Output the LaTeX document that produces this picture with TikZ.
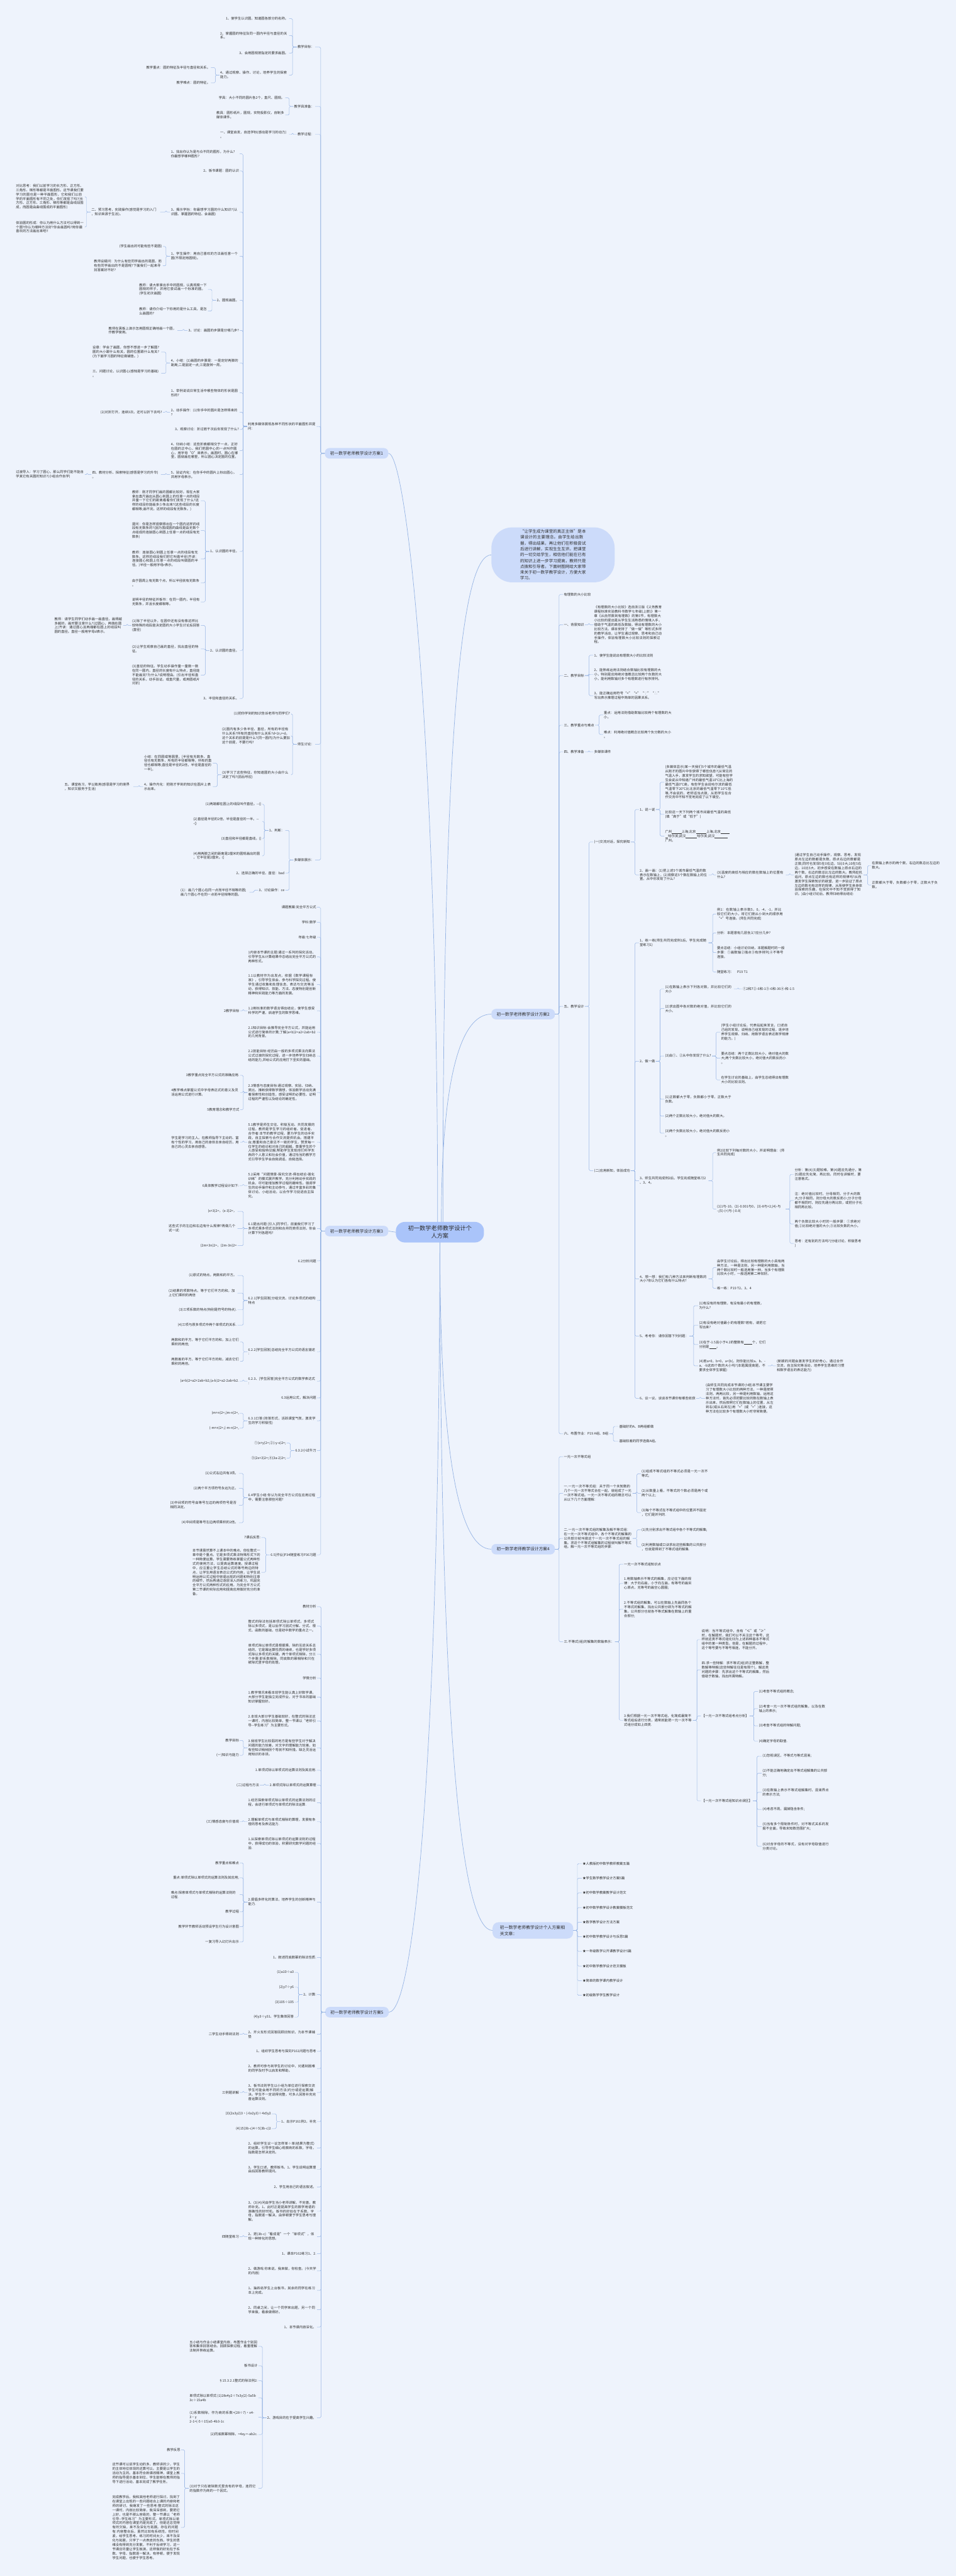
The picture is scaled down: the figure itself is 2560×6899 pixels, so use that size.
\documentclass[tikz,border=0pt]{standalone}
\usepackage{fontspec}
\setmainfont{Noto Sans CJK SC}
\XeTeXlinebreaklocale "zh"
\XeTeXlinebreakskip = 0pt plus 1pt
\definecolor{bg}{RGB}{238,243,252}
\definecolor{lnk}{RGB}{150,180,228}
\definecolor{bnode}{RGB}{204,219,250}
\definecolor{cnode}{RGB}{170,196,250}
\definecolor{txt}{RGB}{45,45,45}
\newcommand{\blank}[1]{\rule[-1.5pt]{#1pt}{0.5pt}}
\newcommand{\tol}[2]{\foreach \kid in {#2}{\draw[link] (#1.west) -- ++(-11,0) |- (\kid.east);}}
\newcommand{\tor}[2]{\foreach \kid in {#2}{\draw[link] (#1.east) -- ++(11,0) |- (\kid.west);}}
\tikzset{
  every node/.style={font=\fontsize{9}{11.6}\selectfont, text=txt, inner xsep=2pt, inner ysep=1pt},
  lt/.style={anchor=east},
  rt/.style={anchor=west},
  para/.style={text width=182pt, align=left},
  link/.style={draw=lnk, line width=0.8pt, rounded corners=3pt},
  trunk/.style={draw=lnk, line width=1.2pt},
  branch/.style={fill=bnode, rounded corners=12pt, minimum width=170pt, minimum height=28pt, font=\fontsize{11.3}{14}\selectfont},
  rootbox/.style={fill=cnode, rounded corners=24pt, minimum width=236pt, minimum height=55pt, align=center, font=\fontsize{15.5}{20.5}\selectfont},
  bubble/.style={fill=bnode, rounded corners=55pt, text width=176pt, align=left, inner xsep=77pt, inner ysep=6pt, font=\fontsize{11}{15.6}\selectfont}
}
\begin{document}
\begin{tikzpicture}[x=1pt,y=-1pt]
\fill[bg] (0,0) rectangle (2560,6899);
\useasboundingbox (0,0) rectangle (2560,6899);

\node[rootbox] (root) at (1178,3300) {初一数学老师教学设计个\\人方案};
\node[branch] (b1) at (955,1214) {初一数学老师教学设计方案1};
\node[branch] (b2) at (1401,2716) {初一数学老师教学设计方案2};
\node[branch] (b3) at (955,3297) {初一数学老师教学设计方案3};
\node[branch] (b4) at (1401,4149) {初一数学老师教学设计方案4};
\node[branch] (b5) at (956,5389) {初一数学老师教学设计方案5};
\node[branch, text width=176pt, align=left, minimum height=44pt, rounded corners=16pt, inner xsep=20pt, font=\fontsize{11.5}{17}\selectfont] (rel) at (1427,5170) {初一数学老师教学设计个人方案相关文章：};
\node[bubble] (sum) at (1481,1486) {“让学生成为课堂的真正主体”是本课设计的主要理念。由学生给出数据，得出结果，再让他们在积极尝试后进行讲解，实现生生互评。把课堂的一切交给学生，相信他们能在已有的知识上进一步学习提高，教师只是点拨和引导者。下面树图网给大家带来关于初一数学教学设计，方便大家学习。};

\draw[trunk] ([xshift=-6pt]root.north) .. controls (1172,2000) and (1090,1214) .. (b1.east);
\draw[trunk] ([xshift=8pt]root.north) .. controls (1186,1900) and (1240,1486) .. (sum.west);
\draw[trunk] ([xshift=4pt]root.north) .. controls (1182,2900) and (1230,2716) .. (b2.west);
\draw[trunk] (root.west) -- (b3.east);
\draw[trunk] (root.south) .. controls (1178,3900) and (1230,4149) .. (b4.west);
\draw[trunk] (root.south) .. controls (1180,4700) and (1240,5170) .. (rel.west);
\draw[trunk] (root.south) .. controls (1175,4700) and (1110,5389) .. (b5.east);

\node[lt] (b1a) at (844,126) {教学目标：};
\node[lt] (b1b) at (844,285) {教学具准备：};
\node[lt] (b1c) at (844,360) {教学过程：};
\node[lt,para] (b1d) at (848,1142) {利用多媒体展现各种不同形状的平面图形并提问：};
\node[lt] (b1e) at (844,1993) {师生讨论：};
\node[lt] (b1f) at (844,2303) {多媒体展示：};
\tol{b1}{b1a,b1b,b1c,b1d,b1e,b1f}

\node[lt] (a1) at (774,50) {1、使学生认识圆，知道圆各部分的名称。};
\node[lt,para] (a2) at (774,95) {2、掌握圆的特征及同一圆内半径与直径的关系。};
\node[lt] (a3) at (774,142) {3、会用圆规按指定的要求画圆。};
\node[lt,para] (a4) at (774,201) {4、通过观察、操作、讨论，培养学生的探索能力。};
\tol{b1a}{a1,a2,a3,a4}
\node[lt] (a4a) at (565,181) {教学重点：圆的特征及半径与直径和关系。};
\node[lt] (a4b) at (565,222) {教学难点：圆的特征。};
\tol{a4}{a4a,a4b}
\node[lt] (bb1) at (764,262) {学具：大小不同的圆片各2个，直尺、圆规。};
\node[lt,para] (bb2) at (764,308) {教具：圆形纸片，圆规，实物投影仪，自制多媒体课件。};
\tol{b1b}{bb1,bb2}
\node[lt,para] (bc1) at (774,360) {一、课堂启发，自选学标(感动是学习的动力)\\。};
\tol{b1c}{bc1}

\node[lt,para] (d1) at (642,412) {1、找出你认为是与众不同的图形，为什么?\\你最想学哪种图形?};
\node[lt] (d2) at (642,458) {2、板书课题：圆的认识};
\node[lt,para] (d3) at (642,568) {3、揭示学标：你最想学习圆的什么知识?(认识圆、掌握圆的特征、会画圆)};
\node[lt,para] (d4) at (642,686) {1、学生操作：用自己喜欢的方法画任意一个圆(不限定用圆规)。};
\node[lt] (d5) at (642,804) {2、圆规画圆。};
\node[lt] (d6) at (642,885) {3、讨论：画圆的步骤是分哪几步?};
\node[lt,para] (d7) at (642,972) {4、小结：(1)画圆的步骤是：一是定好两脚的距离;二是固定一点;三是旋转一周。};
\node[lt,para] (d8) at (642,1052) {1、举例说说日常生活中哪些物体的形状是圆形的?};
\node[lt,para] (d9) at (642,1104) {2、动手操作：(1)你手中的圆片是怎样得来的\\?};
\node[lt] (d10) at (642,1150) {3、观察讨论：折过若干次后你发现了什么?};
\node[lt,para] (d11) at (642,1207) {4、归纳小结：这些折痕都相交于一点，正好在圆的正中心，我们把圆中心的一点叫作圆心，用字母“O”来表示。画圆时，圆心在哪里，圆就画在哪里，所以圆心决定圆的位置。};
\node[lt,para] (d12) at (642,1271) {5、验证内化：在你手中的圆片上标出圆心，\\并用字母表示。};
\node[lt] (d13) at (642,1477) {1、认识圆的半径。};
\node[lt] (d14) at (642,1742) {2、认识圆的直径。};
\node[lt] (d15) at (642,1871) {3、半径和直径的关系。};
\tol{b1d}{d1,d2,d3,d4,d5,d6,d7,d8,d9,d10,d11,d12,d13,d14,d15}

\node[lt,para] (d3a) at (429,568) {二、预习思考，实践操作(感觉是学习的入门\\，知识来源于生活)。};
\tol{d3}{d3a}
\node[lt,para] (d3a1) at (227,527) {对比思考：我们以前学习的长方形、正方形、三角形、梯形等都是平面图形。这节课我们要学习的圆也是一种平面图形，它和我们以前学的平面图形有不同之处，你们发现了吗?(长方形、正方形、三角形、梯形等都是由线段围成，而圆是由曲线围成的平面图形)};
\node[lt,para] (d3a2) at (227,608) {体验圆的形成：你认为用什么方法可以得到一个圆?你认为哪种方法好?你会画圆吗?用你最喜欢的方法画出来吧!!};
\tol{d3a}{d3a1,d3a2}
\node[lt] (d4a) at (436,660) {(学生画出的可能有些不是圆)};
\node[lt,para] (d4b) at (436,712) {教师设疑问：为什么有些同学画出的是圆，而有些同学画出的不是圆呢?下面我们一起来寻找答案好不好?};
\tol{d4}{d4a,d4b}
\node[lt,para] (d5a) at (557,775) {教师：请大家拿出手中的圆规，认真观察一下圆规的样子，并用它尝试画一个标准的圆。(学生初次画圆)};
\node[lt,para] (d5b) at (557,833) {教师：请你介绍一下你用的是什么工具，是怎么画圆的?};
\tol{d5}{d5a,d5b}
\node[lt,para] (d6a) at (475,885) {教师在黑板上演示怎用圆规正确地画一个圆，作教学使用。};
\tol{d6}{d6a}
\node[lt,para] (d7a) at (432,943) {设悬：学会了画圆，你想不想进一步了解圆?圆的大小跟什么有关，圆的位置跟什么有关?(为下面学习圆的特征做铺垫。)};
\node[lt,para] (d7b) at (432,1000) {三、问题讨论，认识圆心(感知是学习的基础)\\。};
\tol{d7}{d7a,d7b}
\node[lt] (d9a) at (436,1104) {(2)对折打开，连续3次。还可以折下去吗?};
\tol{d9}{d9a}
\node[lt,para] (d12a) at (431,1271) {四、教材分析、探索特征(感悟是学习的升华)\\。};
\tol{d12}{d12a}
\node[lt,para] (d12b) at (227,1271) {过渡导入：学习了圆心，那么同学们能不能自学其它有关圆的知识?(小组合作自学)};
\tol{d12a}{d12b}
\node[lt,para] (r1) at (538,1341) {教师：刚才同学们画的圆都比较好。现在大家拿出直尺画出从圆心到圆上的任意一点的线段并量一下它们的距离看看你们发现了什么?这样的线段你能画多少条出来?(这些线段的长度都相等;画不完，这样的线段有无数条。)};
\node[lt,para] (r2) at (538,1421) {提问：你是怎样观察得出在一个圆内这样的线段有无数条的?(因为围成圆的曲线是由无数个点组成的连接圆心到圆上任意一点的线段有无数条)};
\node[lt,para] (r3) at (538,1497) {教师：连接圆心到圆上任意一点的线段有无数条。这样的线段我们把它叫做半径(齐读：连接圆心和圆上任意一点的线段叫做圆的半径。)半径一般用字母r表示。};
\node[lt,para] (r4) at (538,1561) {由于圆周上有无数个点，所以半径就有无数条\\。};
\node[lt,para] (r5) at (538,1612) {说明半径的特征并板书：在同一圆内，半径有无数条，并且长度都相等。};
\tol{d13}{r1,r2,r3,r4,r5}
\node[lt,para] (s1) at (538,1675) {(1)除了半径以外，在圆中还有没有像这样比较特殊的线段能决定圆的大小学生讨论后回答(直径)};
\node[lt,para] (s2) at (538,1738) {(2)让学生观察自己画的直径，找出直径的特征。};
\node[lt,para] (s3) at (538,1808) {(3)直径的特征。学生动手操作量一量数一数在同一圆内，直径的长度有什么特点，直径能不能画完?为什么?说明理由。(引出半径和直径的关系，动手验证。或直尺量，或用圆纸片对折)};
\tol{d14}{s1,s2,s3}
\node[lt,para] (s1a) at (330,1675) {教师：请学生同学们动手画一画直径。画得越多越好。画时要注意什么?(过圆心，两端在圆上)齐读：通过圆心且两端都在圆上的线段叫圆的直径。直径一般用字母d表示。};
\tol{s1}{s1a}

\node[lt] (e1) at (779,1912) {(1)把你学到的知识告诉老师与同学们?};
\node[lt,para] (e2) at (779,1971) {(2)圆内有多少条半径、直径，所有的半径有什么关系?所有的直径有什么关系?d=2r,r=d。这个关系的前提是什么?(同一圆内)为什么要加这个前提，不要行吗?};
\node[lt,para] (e3) at (779,2075) {(3)学习了这些特征，你知道圆的大小由什么决定了吗?(前后呼应)};
\tol{b1e}{e1,e2,e3}
\node[lt,para] (e3a) at (570,2044) {小结：在同圆或等圆里，[半径有无数条，直径也有无数条，所有的半径都相等，所有的直径也都相等;直径是半径的2倍，半径是直径的一半]。};
\node[lt,para] (e3b) at (570,2107) {4、操作内化：把刚才学到的知识在圆片上表示出来。};
\tol{e3}{e3a,e3b}
\node[lt,para] (e3c) at (357,2107) {五、课堂练习，学以致用(感恩是学习的境界\\，知识又服务于生活)};
\tol{e3b}{e3c}

\node[lt] (f1) at (764,2224) {1、判断：};
\node[lt] (f2) at (764,2338) {2、选择正确的半径、直径：bad};
\node[lt] (f3) at (764,2384) {3、讨论操作：ce};
\tol{b1f}{f1,f2,f3}
\node[lt] (f1a) at (702,2154) {(1)两端都在圆上的线段叫作直径。-{}-()};
\node[lt,para] (f1b) at (702,2200) {(2)直径是半径的2倍，半径是直径的一半。-{}-\\-()};
\node[lt] (f1c) at (702,2246) {(3)直径和半径都是直线。()};
\node[lt,para] (f1d) at (702,2292) {(4)用两脚之间的距离是2厘米的圆规画出的圆\\，它半径是2厘米。()};
\tol{f1}{f1a,f1b,f1c,f1d}
\node[lt,para] (f3a) at (668,2390) {(1)：画几个圆心在同一点而半径不相等的圆;\\画几个圆心不在同一点而半径相等的圆。};
\tol{f3}{f3a}

\node[rt] (h1) at (1508,1592) {有理数的大小比较};
\node[rt] (h2) at (1508,1673) {一、背景知识};
\node[rt] (h3) at (1508,1809) {二、教学目标};
\node[rt] (h4) at (1508,1942) {三、教学重点与难点};
\node[rt] (h5) at (1508,2014) {四、教学准备};
\node[rt] (h6) at (1508,2695) {五、教学设计};
\node[rt] (h7) at (1508,3840) {六、布置作业：P19 A组、B组};
\tor{b2}{h1,h2,h3,h4,h5,h6,h7}
\node[rt,para] (h2a) at (1589,1673) {《有理数的大小比较》选自浙江版《义务教育课程标准实验教科书数学七年级(上册)》第一章《从自然数到有理数》的第5节，有理数大小比较的提出是从学生生活熟悉的情境入手，借助于气温的高低及数轴，得出有理数的大小比较方法。课本安排了“做一做”等形式多样的教学活动，让学生通过观察、思考和自己动手操作，体验有理数大小比较法则的探索过程。};
\tor{h2}{h2a}
\node[rt] (h3a) at (1589,1755) {1、使学生能说出有理数大小的比较法则};
\node[rt,para] (h3b) at (1589,1806) {2、能熟练运用法则结合数轴比较有理数的大小，特别是应用绝对值概念比较两个负数的大小，能利用数轴对多个有理数进行有序排列。};
\node[rt,para] (h3c) at (1589,1863) {3、能正确运用符号“<”“>”“∵”“∴”写出表示推理过程中简单的因果关系。};
\tor{h3}{h3a,h3b,h3c}
\node[rt,para] (h4a) at (1615,1915) {重点：运用法则借助数轴比较两个有理数的大小。};
\node[rt,para] (h4b) at (1615,1967) {难点：利用绝对值概念比较两个负分数的大小\\。};
\tor{h4}{h4a,h4b}
\node[rt] (h5a) at (1589,2014) {多媒体课件};
\tor{h5}{h5a}
\node[rt] (h6a) at (1589,2255) {(一)交流对话，探究新知};
\node[rt] (h6b) at (1589,3135) {(二)应用新知，体验成功};
\tor{h6}{h6a,h6b}
\node[rt] (h7a) at (1656,3820) {基础好的A、B两组都做};
\node[rt] (h7b) at (1656,3860) {基础较差的同学选做A组。};
\tor{h7}{h7a,h7b}

\node[rt] (i1) at (1711,2168) {1、说一说};
\node[rt,para] (i2) at (1711,2343) {2、画一画：(1)把上述5个城市最低气温的数表示在数轴上，(2)观察这5个数在数轴上的位置，从中你发现了什么?};
\tor{h6a}{i1,i2}
\node[rt,para] (i1a) at (1779,2095) {(多媒体显示)某一天我们5个城市的最低气温从刚才的图片中你获得了哪些信息?(从常见的气温入手，激发学生的求知欲望，可能有些学生会说从中知道广州的最低气温10℃比上海的最低气温0℃高，有些学生会说哈尔滨的最低气温零下20℃比北京的最低气温零下10℃低等,不会说的，老师适当点拨，从而学生在合作交流中不知不觉地完成了以下填空。};
\node[rt,para] (i1b) at (1779,2181) {比较这一天下列两个城市间最低气温的高低(填“高于”或“低于”)};
\node[rt,para] (i1c) at (1779,2239) {广州\blank{26}上海;北京\blank{28}上海;北京\blank{24}\\\blank{8}哈尔滨;武汉\blank{30}哈尔滨;武汉\blank{34}\\广州。};
\tor{i1}{i1a,i1b,i1c}
\node[rt,para] (i2a) at (1918,2343) {(3)温度的高低与相应的数在数轴上的位置有什么?};
\tor{i2}{i2a}
\node[rt,para] (i2b) at (2126,2343) {(通过学生自己动手操作，观察、思考，发现原点左边的数都是负数，原点右边的数都是正数;同时也发现5在0右边，5比0大;10在5右边，10比5大，初步感受在数轴上原点右边的两个数，右边的数总比左边的数大。教师趁机追问，原点左边的数也有这样的规律吗?从而激发学生探索知识的欲望，进一步验证了原点左边的数也有这样的规律，从而使学生亲身体验探索的乐趣，在探究中不知不觉获得了知识。)由小组讨论后，教师归纳得出结论:};
\tor{i2a}{i2b}
\node[rt,para] (i2c) at (2333,2318) {在数轴上表示的两个数，右边的数总比左边的数大。};
\node[rt,para] (i2d) at (2333,2370) {正数都大于零，负数都小于零，正数大于负数。};
\tor{i2b}{i2c,i2d}

\node[rt,para] (j1) at (1711,2525) {1、练一练(师生共同完成例1后，学生完成随堂练习1)};
\node[rt] (j2) at (1711,2842) {2、做一做};
\node[rt,para] (j3) at (1711,3162) {3、师生共同完成例2后，学生完成随堂练习2\\、3、4。};
\node[rt,para] (j4) at (1711,3425) {4、想一想：我们有几种方法来判断有理数的大小?你认为它们各有什么特点?};
\node[rt] (j5) at (1711,3578) {5、考考你：请你回答下列问题：};
\node[rt] (j6) at (1711,3745) {6、议一议，谈谈本节课你有哪些收获};
\tor{h6b}{j1,j2,j3,j4,j5,j6}
\node[rt,para] (j1a) at (1918,2448) {例1：在数轴上表示数5，0，-4，-1，并比较它们的大小，将它们按从小到大的顺序用“<”号连接。(师生共同完成)};
\node[rt] (j1b) at (1918,2499) {分析：本题意有几层含义?应分几步?};
\node[rt,para] (j1c) at (1918,2551) {要点总结：小组讨论归纳，本题解题时的一般步骤：①画数轴②描点③有序排列;④不等号连接。};
\node[rt] (j1d) at (1918,2603) {随堂练习：\quad P19 T1};
\tor{j1}{j1a,j1b,j1c,j1d}
\node[rt,para] (j2a) at (1779,2649) {(1)在数轴上表示下列各对数，并比较它们的大小};
\node[rt,para] (j2b) at (1779,2701) {(2)求出图中各对数的绝对值，并比较它们的大小。};
\node[rt] (j2c) at (1779,2828) {(3)由①、②从中你发现了什么?};
\node[rt,para] (j2d) at (1779,2944) {(1)正数都大于零，负数都小于零，正数大于负数。};
\node[rt] (j2e) at (1779,2989) {(2)两个正数比较大小，绝对值大的数大。};
\node[rt,para] (j2f) at (1779,3035) {(3)两个负数比较大小，绝对值大的数反而小\\。};
\tor{j2}{j2a,j2b,j2c,j2d,j2e,j2f}
\node[rt] (j2a1) at (1987,2649) {①2和7②-6和-1③-6和-36④-和-1.5};
\tor{j2a}{j2a1}
\node[rt,para] (j2c1) at (1929,2764) {(学生小组讨论后，代表站起来发言，口述自己组的发现，说明自己组发现的过程，逐步培养学生观察、归纳、用数学语言表达数学规律的能力。)};
\node[rt,para] (j2c2) at (1929,2834) {要点总结：两个正数比较大小，绝对值大的数大;两个负数比较大小，绝对值大的数反而小\\。};
\node[rt,para] (j2c3) at (1929,2892) {在学生讨论的基础上，由学生总结得出有理数大小的比较法则。};
\tor{j2c}{j2c1,j2c2,j2c3}
\node[rt,para] (j3a) at (1918,3087) {例2比较下列每对数的大小，并说明理由：(师生共同完成)};
\node[rt,para] (j3b) at (1918,3238) {(1)1与-10，(2)-0.001与0，(3)-8与+2;(4)-与\\-;(5)-(+)与-|-0.8|};
\tor{j3}{j3a,j3b}
\node[rt,para] (j3b1) at (2126,3145) {分析：第(4)(5)题较难，第(4)题应先通分，第(5)题应先化简，再比较。同时在讲解时，要注意格式。};
\node[rt,para] (j3b2) at (2126,3215) {注：绝对值比较时，分母相同，分子大的数大;分子相同，则分母大的数反而小;分子分母都不相同时，则应先通分再比较，或把分子化相同再比较。};
\node[rt,para] (j3b3) at (2126,3278) {两个负数比较大小时的一般步骤：①求绝对值;②比较绝对值的大小;③比较负数的大小。};
\node[rt,para] (j3b4) at (2126,3330) {思考：还有别的方法吗?(分组讨论，积极思考\\)};
\tor{j3b}{j3b1,j3b2,j3b3,j3b4}
\node[rt,para] (j4a) at (1918,3395) {由学生讨论后，得出比较有理数的大小具有两种方法，一种是法则，另一种是利用数轴，当两个数比较时一般选用第一种，当多个有理数比较大小时，一般选用第二种较好。};
\node[rt] (j4b) at (1918,3450) {练一练：P19 T2、3、4};
\tor{j4}{j4a,j4b}
\node[rt,para] (j5a) at (1870,3497) {(1)有没有的有理数，有没有最小的有理数，\\为什么?};
\node[rt,para] (j5b) at (1870,3549) {(2)有没有绝对值最小的有理数?若有，请把它写出来?};
\node[rt,para] (j5c) at (1870,3601) {(3)在于-1.5且小于4.2的整数有\blank{22}个，它们\\分别是\blank{20}。};
\node[rt,para] (j5d) at (1870,3658) {(4)若a>0，b<0，a<|b|，则你能比较a、b、-a、-b这四个数的大小吗?(本题属提高题，不要求全体学生掌握)};
\tor{j5}{j5a,j5b,j5c,j5d}
\node[rt,para] (j5d1) at (2078,3658) {(新颖的问题会激发学生的好奇心，通过合作交流，自主探究等活动，培养学生思维的习惯和数学语言的表达能力)};
\tor{j5d}{j5d1}
\node[rt,para] (j6a) at (1888,3745) {(由师生共同完成本节课的小结)本节课主要学习了有理数大小比较的两种方法，一种是按照法则，两两比较，另一种是利用数轴，运用这种方法时，首先必须把要比较的数在数轴上表示出来，然后按照它们在数轴上的位置，从左到右(或从右到左)用“<”(或“>”)连接，这种方法在比较多个有理数大小时非常简便。};
\tor{j6}{j6a}

\node[lt] (c1) at (849,2430) {课题教案:完全平方公式};
\node[lt] (c2) at (849,2470) {学科:数学};
\node[lt] (c3) at (849,2510) {年级:七年级};
\node[lt,para] (c4) at (849,2563) {1内容本节课的主题:通过一系列的探究活动，引导学生从计算结果中总结出完全平方公式的两种形式。};
\node[lt,para] (c5) at (849,2637) {1.1以教材作为出发点，依据《数学课程标准》，引导学生体会、参与科学探究过程。使学生通过收集和处理信息、表达与交流等活动，获得知识、技能、方法、态度特别是创新精神和实践能力等方面的发展。};
\node[lt,para] (c6) at (849,2707) {1.2用标准的数学语言得出结论，使学生感受科学的严谨，启迪学生的数学思维。};
\node[lt,para] (c7) at (849,2764) {2.1知识目标:会推导完全平方公式，并能运用公式进行简单的计算;了解(a+b)2=a2+2ab+b2的几何背景。};
\node[lt,para] (c8) at (849,2828) {2.2技能目标:经历由一般的多项式乘法向乘法公式过渡的探究过程，进一步培养学生归纳总结的能力,并给公式的应用打下坚实的基础。};
\node[lt,para] (c9) at (849,2926) {2.3情感与态度目标:通过观察、实验、归纳、类比、推断获得数学猜想，体验数学活动充满着探索性和创造性，感受证明的必要性、证明过程的严谨性以及结论的确定性。};
\node[lt,para] (c10) at (849,3059) {5.1教学是师生交往、积极互动、共同发展的过程。教师是学生学习的组织者、促进者、合作者:本节的教学过程，要为学生的动手实践，自主探索与合作交流提供机会。搭建平台;尊重和自己意见不一致的学生，赞赏每一位学生的结论和对自己的超越。尊重学生的个人感受和独特见解;帮助学生发现他们所学东西的个人意义和社会价值，通过恰当的教学方式引导学生学会自我调适，自我选择。};
\node[lt,para] (c11) at (849,3175) {5.2采用“问题情景-探究交流-得出结论-强化训练”的模式展开教学。充分利用动手实践的机会，尽可能增加教学过程的趣味性。强调学生的动手操作和主动参与，通过丰富多彩的集体讨论、小组活动，以合作学习促进自主探究。};
\node[lt,para] (c12) at (849,3290) {6.1提出问题:[引入]同学们，前面我们学习了多项式乘多项式法则和合并同类项法则，你会计算下列各题吗?};
\node[lt] (c13) at (849,3377) {6.2分析问题};
\node[lt,para] (c14) at (849,3483) {6.2.1[学生回答]分组交流、讨论多项式的结构特点};
\node[lt,para] (c15) at (849,3620) {6.2.2[学生回答]总结完全平方公式的语言描述\\:};
\node[lt,para] (c16) at (849,3699) {6.2.3、[学生回答]完全平方公式的数学表达式\\:};
\node[lt] (c17) at (849,3744) {6.3运用公式，解决问题};
\node[lt,para] (c18) at (849,3805) {6.3.1口答:(抢答形式，活跃课堂气氛，激发学生的学习积极性)};
\node[lt] (c19) at (849,3885) {6.3.2小试牛刀};
\node[lt,para] (c20) at (849,4011) {6.4学生小结:你认为完全平方公式在应用过程中，需要注意那些问题?};
\node[lt] (c21) at (849,4164) {6.5[作业]P34随堂练习P36习题};
\tol{b3}{c1,c2,c3,c4,c5,c6,c7,c8,c9,c10,c11,c12,c13,c14,c15,c16,c17,c18,c19,c20,c21}
\node[lt] (c6a) at (643,2707) {2教学目标};
\tol{c6}{c6a}
\node[lt] (c9a) at (643,2880) {3教学重点完全平方公式的准确应用.};
\node[lt,para] (c9b) at (643,2926) {4教学难点掌握公式中字母表达式的意义及灵活运用公式进行计算。};
\node[lt] (c9c) at (643,2972) {5教育理念和教学方式};
\tol{c9}{c9a,c9b,c9c}
\node[lt,para] (c10a) at (643,3059) {学生是学习的主人。在教师指导下主动的、富有个性的学习，用自己的身体去亲自经历，用自己的心灵去亲自感悟。};
\tol{c10}{c10a}
\node[lt] (c11a) at (642,3175) {6具体教学过程设计如下:};
\tol{c11}{c11a}
\node[lt] (c12a) at (636,3244) {(x+3)2=，(x-3)2=，};
\node[lt,para] (c12b) at (636,3290) {这些式子的左边和右边有什么规律?再做几个试一试:};
\node[lt] (c12c) at (636,3336) {(2m+3n)2=，(2m-3n)2=};
\tol{c12}{c12a,c12b,c12c}
\node[lt] (c14a) at (636,3416) {(1)原式的特点。两数和的平方。};
\node[lt,para] (c14b) at (636,3463) {(2)结果的项数特点。等于它们平方的和，加上它们乘积的两倍};
\node[lt] (c14c) at (636,3508) {(3)三项系数的特点(特别是符号的特点).};
\node[lt] (c14d) at (636,3549) {(4)三项与原多项式中两个单项式的关系.};
\tol{c14}{c14a,c14b,c14c,c14d}
\node[lt,para] (c15a) at (643,3594) {两数和的平方，等于它们平方的和，加上它们乘积的两倍;};
\node[lt,para] (c15b) at (643,3646) {两数差的平方，等于它们平方的和，减去它们乘积的两倍。};
\tol{c15}{c15a,c15b}
\node[lt] (c16a) at (642,3699) {(a+b)2=a2+2ab+b2;(a-b)2=a2-2ab+b2.};
\tol{c16}{c16a}
\node[lt] (c18a) at (642,3785) {(m+n)2=,(m-n)2=,};
\node[lt] (c18b) at (642,3825) {(-m+n)2=,(-m-n)2=,};
\tol{c18}{c18a,c18b}
\node[lt] (c19a) at (768,3865) {①(x+y)2=;②(-y-x)2=;};
\node[lt] (c19b) at (768,3905) {③(2x+3)2=;④(3a-2)2=;};
\tol{c19}{c19a,c19b}
\node[lt] (c20a) at (640,3946) {(1)公式右边共有3项。};
\node[lt] (c20b) at (640,3986) {(2)两个平方项符号永远为正。};
\node[lt,para] (c20c) at (640,4031) {(3)中间项的符号由等号左边的两项符号是否相同决定。};
\node[lt] (c20d) at (640,4078) {(4)中间项是等号左边两项乘积的2倍。};
\tol{c20}{c20a,c20b,c20c,c20d}
\node[lt] (c21a) at (700,4118) {7课后反思:};
\node[lt,para] (c21b) at (700,4211) {本节课虽然算不上课本中的难点，但在整式一章中是个重点。它是多项式乘法特殊形式下的一种简便运算。学生需要熟练掌握公式两种形式的使用方法，以提高运算速度。授课过程中，应注重让学生总结公式的等号两边的特点，让学生用语言表达公式的内容，让学生说明运用公式过程中容易出现的问题和特别注意的细节，然后再通过逐层深入的练习，巩固完全平方公式两种形式的应用。为完全平方公式第二节课的实际应用和提高应用做好充分的准备。};
\tol{c21}{c21a,c21b}

\node[rt] (k1) at (1508,3901) {一元一次不等式组};
\node[rt,para] (k2) at (1508,3999) {一.一元一次不等式组：关于同一个未知数的几个一元一次不等式合在一起，就组成了一元一次不等式组。一元一次不等式组的概念可以从以下几个方面理解：};
\node[rt,para] (k3) at (1508,4120) {二.一元一次不等式组的解集及解不等式组：在一元一次不等式组中，各个不等式的解集的公共部分就叫做这个一元一次不等式组的解集。求这个不等式组解集的过程就叫解不等式组。解一元一次不等式组的步骤：};
\node[rt] (k4) at (1508,4397) {三.不等式(组)的解集的数轴表示：};
\tor{b4}{k1,k2,k3,k4}
\node[rt,para] (k2a) at (1716,3947) {(1)组成不等式组的不等式必须是一元一次不等式;};
\node[rt,para] (k2b) at (1716,3999) {(2)从数量上看，不等式的个数必须是两个或两个以上;};
\node[rt,para] (k2c) at (1716,4051) {(3)每个不等式在不等式组中的位置并不固定\\，它们是并列的.};
\tor{k2}{k2a,k2b,k2c}
\node[rt] (k3a) at (1716,4097) {(1)先分别求出不等式组中各个不等式的解集;};
\node[rt,para] (k3b) at (1716,4143) {(2)利用数轴或口诀求出这些解集的公共部分\\，也就是得到了不等式组的解集.};
\tor{k3}{k3a,k3b}
\node[rt] (k4a) at (1669,4189) {一元一次不等式组知识点};
\node[rt,para] (k4b) at (1669,4241) {1.用数轴表示不等式的解集，应记住下面的规律：大于向右画，小于向左画，有等号的画实心原点，无等号的画空心圆圈;};
\node[rt,para] (k4c) at (1669,4310) {2.不等式组的解集，可以在数轴上先画同各个不等式的解集，找出公共部分即为不等式的解集。公共部分也就各不等式解集在数轴上的重合部分;};
\node[rt,para] (k4d) at (1669,4607) {3.我们根据一元一次不等式组，化简成最简不等式组后进行分类，通常就能把一元一次不等式组分成如上四类.};
\tor{k4}{k4a,k4b,k4c,k4d}
\node[rt,para] (k4d1) at (1877,4391) {说明：当不等式组中，含有“≤”或“≥”时，在解题时，我们可以不关注这个等号，这样就这类不等式组化归为上述四种基本不等式组中的某一种类型。但是，在解题的过程中，这个等号要与不等号相连，不能分开。};
\node[rt,para] (k4d2) at (1877,4472) {四.求一些特解：求不等式(组)的正整数解，整数解等特解(这些特解往往是有限个)，解这类问题的步骤：先求出这个不等式的解集，然后借助于数轴，找出所需特解。};
\node[rt] (k4d3) at (1877,4596) {【一元一次不等式组考点分析】};
\node[rt] (k4d4) at (1877,4823) {【一元一次不等式组知识点误区】};
\tor{k4d}{k4d1,k4d2,k4d3,k4d4}
\node[rt] (m1) at (2030,4530) {(1)考查不等式组的概念;};
\node[rt,para] (m2) at (2030,4576) {(2)考查一元一次不等式组的解集，以及在数轴上的表示;};
\node[rt] (m3) at (2030,4622) {(3)考查不等式组的特解问题;};
\node[rt] (m4) at (2030,4663) {(4)确定字母的取值.};
\tor{k4d3}{m1,m2,m3,m4}
\node[rt] (n1) at (2040,4703) {(1)忽视误区，不等式与等式混淆;};
\node[rt,para] (n2) at (2040,4749) {(2)不能正确地确定出不等式组解集的公共部\\分;};
\node[rt,para] (n3) at (2040,4800) {(3)在数轴上表示不等式组解集时，混淆界点的表示方法;};
\node[rt] (n4) at (2040,4846) {(4)考虑不周，漏掉隐含条件;};
\node[rt,para] (n5) at (2040,4892) {(5)当有多个限制条件时，对不等式关系的发掘不全面，导致未知数范围扩大;};
\node[rt,para] (n6) at (2040,4945) {(6)对含字母的不等式，没有对字母取值进行分类讨论。};
\tor{k4d4}{n1,n2,n3,n4,n5,n6}

\foreach \t [count=\i from 0] in {人教版初中数学教师教案五篇,学生数学教学设计方案5篇,初中数学教案教学设计范文,初中数学教学设计教案模板范文,数学教学设计方法方案,初中数学教学设计与反思5篇,一年级数学公开课教学设计5篇,初中数学教学设计范文模板,简单的数学课内教学设计,初级数学学生教学设计}
  \node[rt] (q\i) at (1558,{4991+39.2*\i}) {★\t};
\foreach \i in {0,...,9} \draw[link] (rel.east) -- ++(11,0) |- (q\i.west);

\node[lt] (g1) at (849,4303) {教材分析};
\node[lt,para] (g2) at (849,4355) {整式的除法包括单项式除以单项式，多项式除以多项式，是以后学习因式分解、分式、根式、函数的基础，也是初中数学的重点之一。};
\node[lt,para] (g3) at (849,4430) {单项式除以单项式是根据乘、除的互逆关系总结的，它是幂运算性质的继续，也是学好多项式除以多项式的关键。两个单项式相除，分三个步骤:即系数相除，同底数的幂相除和只在被除式里字母的处理。};
\node[lt] (g4) at (849,4494) {学情分析};
\node[lt,para] (g5) at (849,4545) {1.教学情况来看本班学生能认真上好数学课，大部分学生能独立完成作业，对于书本的基础知识掌握较好。};
\node[lt,para] (g6) at (849,4609) {2.本班大部分学生基础较好，在整式的除法这一课时，内容比较简单，整一节课以“老师引导-{}-学生练习”为主要形式。};
\node[lt,para] (g7) at (849,4681) {3.我班学生比较弱的地方是有些学生对于解决问题的能力较差，对文字的理解能力较差，如有些知识稍稍拐个弯就不知所措，缺乏灵活运用知识的本领。};
\node[lt] (g8) at (849,4741) {1.单项式除以单项式的运算法则及其应用.};
\node[lt] (g9) at (849,4781) {2.单项式除以单项式的运算算理};
\node[lt,para] (g10) at (849,4828) {1.经历探索单项式除以单项式的运算法则的过程，会进行单项式与单项式的除法运算.};
\node[lt,para] (g11) at (849,4879) {2.理解单项式与单项式相除的算理，发展有条理的思考及表达能力.};
\node[lt,para] (g12) at (849,4937) {1.从探索单项式除以单项式的运算法则的过程中，获得成功的体验，积累研究数学问题的经验.};
\node[lt,para] (g13) at (849,5094) {2.提倡多样化的算法，培养学生的创新精神与能力.};
\node[lt] (g14) at (849,5242) {1、叙述同底数幂的除法性质.};
\node[lt] (g15) at (849,5342) {2、计算:};
\node[lt,para] (g16) at (849,5448) {2、开火车形式回答回顾旧知识，为本节课铺垫};
\node[lt] (g17) at (849,5494) {1、组织学生思考与探究P161问题与思考};
\node[lt,para] (g18) at (849,5540) {2、教师可参与到学生的讨论中，对遇到困难的同学及时予以启发和帮助。};
\node[lt,para] (g19) at (849,5604) {3、板书法则学生以小组为单位进行探索交流学生可能会用不同的方法(约分或逆运算)解决。学生不一定说得完整，可多人回答补充完善运算法则。};
\node[lt] (g20) at (849,5682) {1、出示P161例2，补充};
\node[lt,para] (g21) at (849,5753) {2、组织学生议一议怎样单÷单(结果为整式)的运算。引导学生细心观察商的系数，字母，指数是怎样决定的。};
\node[lt,para] (g22) at (849,5810) {3、学生口述，教师板书。1、学生说明运算理由后回答教师提问。};
\node[lt] (g23) at (849,5857) {2、学生用自己的语言叙述。};
\node[lt,para] (g24) at (849,5922) {3、(3)(4)问由学生当小老师讲解，不完善，教师补充。1、此时正是提高学生的数学用语的准确性的好时机。板书的好处在于系数，字母，指数逐一解决，由停顿便于学生思考与理解。};
\node[lt,para] (g25) at (849,5990) {2、把(3b-c)“看成是”一个“单项式”，体现一种转化的思想。};
\node[lt] (g26) at (849,6036) {1、课本P162练习1、2.};
\node[lt,para] (g27) at (849,6082) {2、做游戏:你来说，我来做，你检查。(今天学的内容)};
\node[lt,para] (g28) at (849,6134) {1、抽四名学生上台板书，其余的同学在练习本上完成。};
\node[lt,para] (g29) at (849,6186) {2、同桌之间，让一个同学来出题，另一个同学来做，看谁做得好。};
\node[lt] (g30) at (849,6232) {1、本节课内容深化。};
\node[lt] (g31) at (849,6475) {2、游戏目的在于提高学生兴趣。};
\tol{b5}{g1,g2,g3,g4,g5,g6,g7,g8,g9,g10,g11,g12,g13,g14,g15,g16,g17,g18,g19,g20,g21,g22,g23,g24,g25,g26,g27,g28,g29,g30,g31}
\node[lt] (g7a) at (642,4661) {教学目标};
\node[lt] (g7b) at (642,4701) {(一)知识与能力};
\tol{g7}{g7a,g7b}
\node[lt] (g9a) at (696,4781) {(二)过程与方法};
\tol{g9}{g9a}
\node[lt] (g11a) at (642,4879) {(三)情感态度与价值观};
\tol{g11}{g11a}
\node[lt] (g13a) at (642,4989) {教学重点和难点};
\node[lt] (g13b) at (642,5029) {重点:单项式除以单项式的运算法则及其应用;};
\node[lt,para] (g13c) at (642,5074) {难点:探索单项式与单项式相除的运算法则的\\过程.};
\node[lt] (g13d) at (642,5120) {教学过程};
\node[lt] (g13e) at (642,5160) {教学环节教师活动预设学生行为设计意图};
\node[lt] (g13f) at (642,5201) {一复习导入幻灯片出示};
\tol{g13}{g13a,g13b,g13c,g13d,g13e,g13f}
\node[lt] (g15a) at (789,5282) {(1)a10÷a3};
\node[lt] (g15b) at (789,5322) {(2)y7÷y6};
\node[lt] (g15c) at (789,5362) {(3)105÷105};
\node[lt] (g15d) at (789,5402) {(4)y3÷y31、学生集体回答};
\tol{g15}{g15a,g15b,g15c,g15d}
\node[lt] (g16a) at (642,5448) {二学生动手得到法则};
\tol{g16}{g16a}
\node[lt] (g19a) at (642,5604) {三例题讲解};
\tol{g19}{g19a}
\node[lt] (g20a) at (728,5661) {(3)(2x3y2)3·(-6x2y3)÷4x5y2};
\node[lt] (g20b) at (728,5701) {(4)15(3b-c)4÷5(3b-c)2};
\tol{g20}{g20a,g20b}
\node[lt] (g25a) at (642,5990) {四随堂练习};
\tol{g25}{g25a}
\node[lt,para] (g31a) at (692,6284) {五小结与作业小结课堂内容，布置作业个别回答和集体回答结合。回顾探索过程，着重理解法制并熟练运算。};
\node[lt] (g31b) at (692,6336) {板书设计};
\node[lt] (g31c) at (692,6376) {§15.3.2.1整式的除法例2:};
\node[lt,para] (g31d) at (692,6422) {单项式除以单项式:(1)28x4y2÷7x3y(2)-5a5b\\3c÷15a4b};
\node[lt,para] (g31e) at (692,6474) {(1)系数相除，作为商的系数=(28÷7)•x4-3•y\\2-1=(-5÷15)a5-4b3-1c};
\node[lt] (g31f) at (692,6520) {(2)同底数幂相除，=4xy.=-ab2c.};
\node[lt,para] (g31g) at (692,6664) {(3)对于只在被除数式里含有的字母，连同它的指数作为商的一个因式。};
\tol{g31}{g31a,g31b,g31c,g31d,g31e,g31f,g31g}
\node[lt] (g31g1) at (485,6561) {教学反思};
\node[lt,para] (g31g2) at (485,6624) {这节课可以说学生动的多，教师讲的少，学生的主体地位体现的还算可以。主要是以学生的活动为主的。基本符合新课改精神，课堂上教师的指导提示基本到位，学生能够在教师的指导下进行活动，基本完成了教学任务。};
\node[lt,para] (g31g3) at (485,6769) {完成教学后，我和其他老师进行探讨，找到了在课堂上出现的一些问题结合上课的内容和老师的研讨，我萌发了一些思考:整式的除法这一课时，内容比较简单，我深深感到，要把它上好，也是不那么容易的，整一节课以“老师引导-{}-学生练习”为主要形式。单项式除以单项式的内容在课堂内是完成了。但是还总觉得有所欠缺，来不及深化与拓展。存在的问题有:内容整合后，虽然比较有系统性，但时间紧，给学生思考、练习的时间太少，来不及深化与拓展，只学了一点表皮的东西，学生的思维没有得到充分发散，不利于后续学习，这一节课应尽量让学生板演，这样做的好处在于系数、字母、指数逐一解决，有停顿，便于发现学生问题，也便于学生思考。};
\tol{g31g}{g31g1,g31g2,g31g3}
\end{tikzpicture}
\end{document}
